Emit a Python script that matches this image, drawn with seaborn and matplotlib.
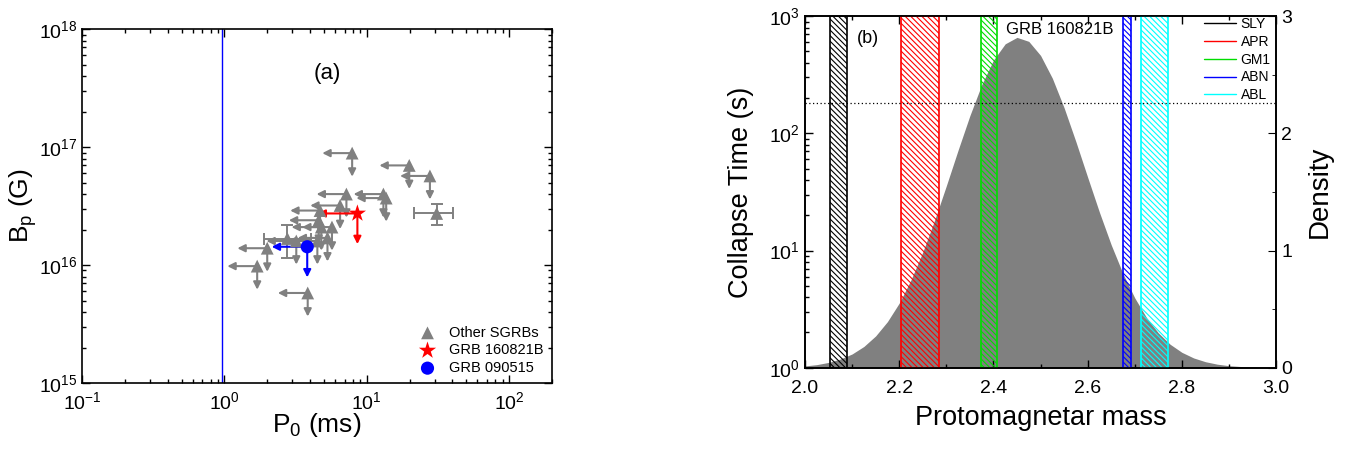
import matplotlib
matplotlib.use("Agg")
import matplotlib.pyplot as plt
import numpy as np
import seaborn as sns
from matplotlib.lines import Line2D
from matplotlib.ticker import MultipleLocator, LogLocator, FormatStrFormatter

# ---- panel (a): spin period vs. magnetic field ----
# other SGRBs with upper limits (P0 in ms, Bp in G)
p_lim = [7.9, 19.9, 27.8, 7.2, 13.1, 13.7, 6.5, 4.7, 4.6, 5.7, 4.8, 5.3, 4.5, 3.2, 2.0, 1.7, 3.85]
b_lim = [8.9e16, 7.0e16, 5.7e16, 4.0e16, 4.0e16, 3.7e16, 3.2e16, 2.9e16, 2.4e16, 2.1e16,
         2.1e16, 1.7e16, 1.6e16, 1.6e16, 1.39e16, 9.8e15, 5.8e15]
# other SGRBs with measured values and error bars
p_err = [31.0, 2.77]
p_lo = [21.4, 1.89]
p_hi = [40.6, 4.05]
b_err = [2.74e16, 1.68e16]
b_lo = [2.18e16, 1.14e16]
b_hi = [3.27e16, 2.18e16]
# highlighted bursts
p_160821b, b_160821b = 8.6, 2.74e16
p_090515, b_090515 = 3.82, 1.43e16
p_breakup = 0.96

# ---- panel (b): protomagnetar mass distribution ----
mass = [2.000, 2.025, 2.050, 2.075, 2.100, 2.125, 2.150, 2.175, 2.200, 2.225, 2.250,
        2.275, 2.300, 2.325, 2.350, 2.375, 2.400, 2.425, 2.450, 2.475, 2.500, 2.525,
        2.550, 2.575, 2.600, 2.625, 2.650, 2.675, 2.700, 2.725, 2.750, 2.775, 2.800,
        2.825, 2.850, 2.875, 2.900, 2.925, 2.950, 2.975, 3.000]
density = [0.015, 0.026, 0.045, 0.074, 0.117, 0.181, 0.271, 0.393, 0.551, 0.749, 0.986,
           1.257, 1.552, 1.857, 2.151, 2.414, 2.625, 2.764, 2.819, 2.785, 2.665, 2.471,
           2.218, 1.929, 1.625, 1.326, 1.048, 0.802, 0.595, 0.427, 0.297, 0.200, 0.131,
           0.083, 0.051, 0.030, 0.017, 0.010, 0.005, 0.003, 0.001]
eos_names = ["SLY", "APR", "GM1", "ABN", "ABL"]
eos_lo = [2.053, 2.203, 2.373, 2.674, 2.714]
eos_hi = [2.089, 2.284, 2.408, 2.691, 2.770]
eos_colors = ["black", "red", "#00dd00", "blue", "cyan"]
t_collapse = 180

sns.set_style("ticks")
plt.rcParams["font.family"] = ["Liberation Sans", "DejaVu Sans"]
plt.rcParams["mathtext.default"] = "regular"
plt.rcParams["hatch.linewidth"] = 0.8
plt.rcParams["xtick.direction"] = "in"
plt.rcParams["ytick.direction"] = "in"
for key in ["text.color", "axes.labelcolor", "xtick.color", "ytick.color", "axes.edgecolor"]:
    plt.rcParams[key] = "black"

fig = plt.figure(figsize=(13.54, 4.53), dpi=100)
ax = fig.add_axes([0.0606, 0.1545, 0.347, 0.781])

gray = "#808080"
ax.axvline(p_breakup, color="blue", lw=1)


def arrow(a, x0, y0, x1, y1, c):
    a.annotate("", xy=(x1, y1), xytext=(x0, y0),
               arrowprops=dict(arrowstyle="-|>", color=c, lw=1.5, mutation_scale=11,
                               shrinkA=0, shrinkB=0))


# arrows for upper limits
for p, b in zip(p_lim, b_lim):
    arrow(ax, p, b, p * 10 ** -0.21, b, gray)
    arrow(ax, p, b, p, b * 10 ** -0.2, gray)
ax.errorbar(p_err, b_err,
            xerr=[np.array(p_err) - np.array(p_lo), np.array(p_hi) - np.array(p_err)],
            yerr=[np.array(b_err) - np.array(b_lo), np.array(b_hi) - np.array(b_err)],
            fmt="none", ecolor=gray, elinewidth=1.4, capsize=4, capthick=1.4)
arrow(ax, p_160821b, b_160821b, p_160821b * 10 ** -0.28, b_160821b, "red")
arrow(ax, p_160821b, b_160821b, p_160821b, b_160821b * 10 ** -0.26, "red")
arrow(ax, p_090515, b_090515, p_090515 * 10 ** -0.25, b_090515, "blue")
arrow(ax, p_090515, b_090515, p_090515, b_090515 * 10 ** -0.26, "blue")

sns.scatterplot(x=p_lim + p_err, y=b_lim + b_err, marker="^", color=gray, s=85,
                edgecolor="none", label="Other SGRBs", ax=ax, zorder=5)
sns.scatterplot(x=[p_160821b], y=[b_160821b], marker="*", color="red", s=170,
                edgecolor="none", label="GRB 160821B", ax=ax, zorder=6)
sns.scatterplot(x=[p_090515], y=[b_090515], marker="o", color="blue", s=90,
                edgecolor="none", label="GRB 090515", ax=ax, zorder=6)

ax.set_xscale("log")
ax.set_yscale("log")
ax.set_xlim(0.1, 200)
ax.set_ylim(1e15, 1e18)
for axis in (ax.xaxis, ax.yaxis):
    axis.set_major_locator(LogLocator(base=10, numticks=10))
    axis.set_minor_locator(LogLocator(base=10, subs=np.arange(2, 10), numticks=40))
ax.set_xlabel("P$_0$ (ms)", fontsize=19)
ax.set_ylabel("B$_p$ (G)", fontsize=19)
ax.xaxis.set_label_coords(0.5, -0.079)
ax.yaxis.set_label_coords(-0.092, 0.5)
ax.tick_params(which="both", top=True, right=True, labelsize=14, width=1)
ax.tick_params(axis="x", which="major", pad=6)
ax.tick_params(axis="y", which="major", pad=3)
ax.tick_params(which="major", length=6)
ax.tick_params(which="minor", length=3)
ax.text(5.3, 4.2e17, "(a)", fontsize=16, ha="center", va="center")
ax.legend(loc="lower right", frameon=False, fontsize=10.5, handletextpad=0.5,
          borderaxespad=0.15, labelspacing=0.25)
for s in ax.spines.values():
    s.set_linewidth(1.2)

# ---- panel (b) ----
bx = fig.add_axes([0.5945, 0.1883, 0.348, 0.776])
bx2 = bx.twinx()
bx2.fill_between(mass, density, color=gray, lw=0)
bx2.set_ylim(0, 3)
bx2.yaxis.set_major_locator(MultipleLocator(1))
bx2.yaxis.set_minor_locator(MultipleLocator(0.5))
bx2.set_ylabel("Density", fontsize=20)
bx2.yaxis.set_label_coords(1.066, 0.5)
bx2.tick_params(which="both", labelsize=14)
bx2.tick_params(which="major", length=6)
bx2.tick_params(which="minor", length=3)

bx.set_zorder(bx2.get_zorder() + 1)
bx.patch.set_visible(False)
for lo, hi, c in zip(eos_lo, eos_hi, eos_colors):
    bx.axvspan(lo, hi, facecolor="none", edgecolor=c, hatch="\\\\\\\\\\\\", lw=1.2)
bx.axhline(t_collapse, color="black", ls=(0, (1, 2)), lw=0.9)
bx.set_yscale("log")
bx.set_ylim(1, 1000)
bx.set_xlim(2.0, 3.0)
bx.yaxis.set_minor_locator(LogLocator(base=10, subs=np.arange(2, 10), numticks=40))
bx.xaxis.set_major_locator(MultipleLocator(0.2))
bx.xaxis.set_minor_locator(MultipleLocator(0.1))
bx.xaxis.set_major_formatter(FormatStrFormatter("%.1f"))
bx.set_xlabel("Protomagnetar mass", fontsize=19.5)
bx.set_ylabel("Collapse Time (s)", fontsize=19.5)
bx.xaxis.set_label_coords(0.5, -0.106)
bx.yaxis.set_label_coords(-0.108, 0.5)
bx.tick_params(which="both", top=True, labelsize=14, width=1)
bx.tick_params(axis="x", which="major", pad=9)
bx.tick_params(which="major", length=6)
bx.tick_params(which="minor", length=3)
bx.text(2.134, 650, "(b)", fontsize=13, ha="center", va="center")
bx.text(2.427, 775, "GRB 160821B", fontsize=12, ha="left", va="center")
handles = [Line2D([], [], color=c, lw=1) for c in eos_colors]
bx.legend(handles, eos_names, loc="upper right", bbox_to_anchor=(1.0, 1.013),
          frameon=False, fontsize=10, handlelength=2.3, handletextpad=0.3,
          labelspacing=0.27, borderaxespad=0.0)
for s in list(bx.spines.values()) + list(bx2.spines.values()):
    s.set_linewidth(1.2)

fig.savefig("out.png", dpi=100)
